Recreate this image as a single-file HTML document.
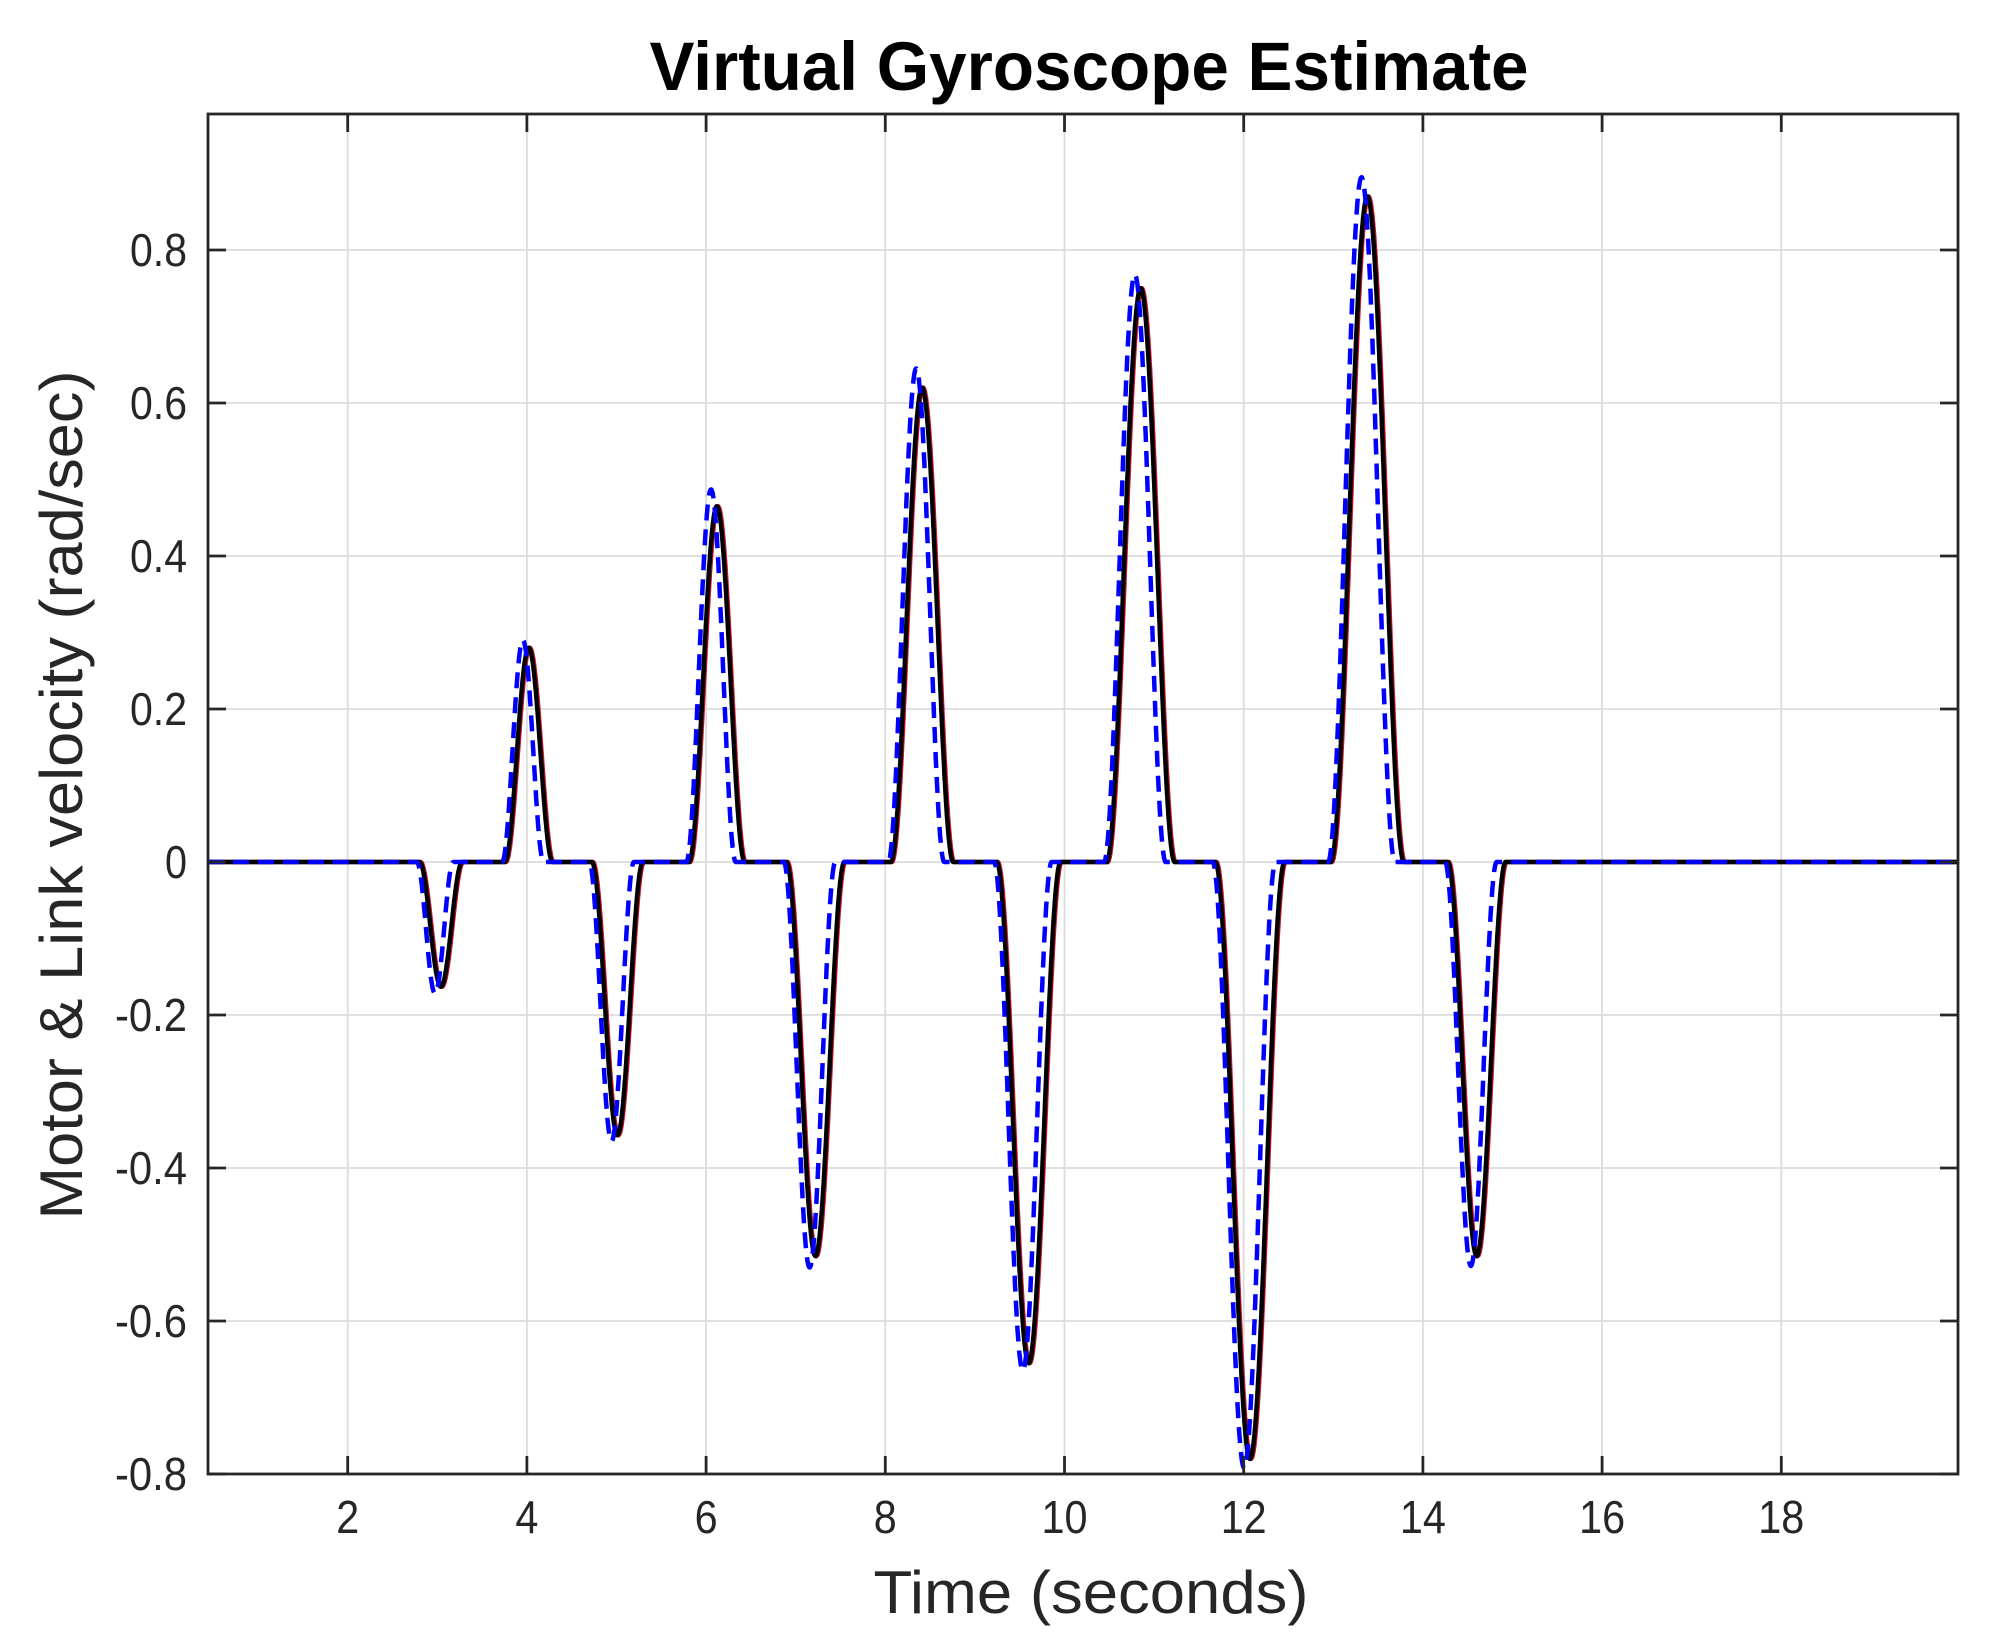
<!DOCTYPE html>
<html><head><meta charset="utf-8"><style>
html,body{margin:0;padding:0;background:#fff;}
svg{display:block;}
text{font-family:"Liberation Sans",Arial,sans-serif;fill:#262626;}
</style></head><body>
<svg id="s" width="1994" height="1651" viewBox="0 0 1994 1651" xmlns="http://www.w3.org/2000/svg">
<rect x="0" y="0" width="1994" height="1651" fill="#fff"/>
<g id="grid" stroke="#dcdcdc" stroke-width="1.8"></g>
<g id="curves" fill="none"></g>
<rect x="208" y="114" width="1750" height="1360" fill="none" stroke="#262626" stroke-width="2.8"/>
<g id="ticks" stroke="#262626" stroke-width="2.8"></g>
<g id="labels" font-size="46"></g>
<text x="1089" y="90" font-size="69" font-weight="bold" text-anchor="middle" style="fill:#000" textLength="879" lengthAdjust="spacingAndGlyphs">Virtual Gyroscope Estimate</text>
<text x="1091" y="1613" font-size="60" text-anchor="middle" textLength="435" lengthAdjust="spacingAndGlyphs">Time (seconds)</text>
<text transform="translate(82,795) rotate(-90)" font-size="60" text-anchor="middle" textLength="849" lengthAdjust="spacingAndGlyphs">Motor &amp; Link velocity (rad/sec)</text>
</svg>
<script>
var NS="http://www.w3.org/2000/svg";
var L=208,R=1958,T=114,B=1474;
function X(t){return 168.5+89.6*t;}
function Y(v){return 862-765*v;}
function el(p,tag,a,txt){var e=document.createElementNS(NS,tag);for(var k in a)e.setAttribute(k,a[k]);if(txt!==undefined)e.textContent=txt;p.appendChild(e);return e;}
var g=document.getElementById('grid'),tk=document.getElementById('ticks'),lb=document.getElementById('labels');
for(var t=2;t<=18;t+=2){var x=X(t);
 el(g,'line',{x1:x,y1:T,x2:x,y2:B});
 el(tk,'line',{x1:x,y1:B,x2:x,y2:B-18});el(tk,'line',{x1:x,y1:T,x2:x,y2:T+18});
 var s=String(t);
 el(lb,'text',{x:x,y:1533,'text-anchor':'middle',textLength:(s.length*23),lengthAdjust:'spacingAndGlyphs'},s);}
for(var i=-4;i<=4;i++){var v=i*0.2,y=Y(v);
 el(g,'line',{x1:L,y1:y,x2:R,y2:y});
 el(tk,'line',{x1:L,y1:y,x2:L+18,y2:y});el(tk,'line',{x1:R,y1:y,x2:R-18,y2:y});
 var s=(i==0)?'0':v.toFixed(1);
 var w=(i==0)?22:(i<0?72:57);
 el(lb,'text',{x:187,y:y+16,'text-anchor':'end',textLength:w,lengthAdjust:'spacingAndGlyphs'},s);}
var P=[[3.04,-0.163],[4.02,0.28],[5.01,-0.357],[6.12,0.465],[7.22,-0.515],[8.41,0.62],[9.6,-0.655],[10.85,0.75],[12.07,-0.78],[13.38,0.87],[14.6,-0.515]];
var BA=[-0.172,0.29,-0.365,0.487,-0.53,0.645,-0.665,0.768,-0.792,0.895,-0.528];
function f(t,blue,dx){var s=0;for(var i=0;i<P.length;i++){var c=P[i][0],A=P[i][1];var h=0.2+0.24*Math.abs(A);
 var st=c-h,en=c+h;if(blue){st-=0.03;en-=0.1;A=BA[i];}st+=dx;en+=dx;
 if(t>st&&t<en){var u=(t-st)/(en-st);s+=A*Math.pow(Math.sin(Math.PI*u),2);}}return s;}
function path(blue,dx){var d='';for(var t=0.44;t<=19.97;t+=0.004){d+=(d?'L':'M')+X(t).toFixed(1)+','+Y(f(t,blue,dx)).toFixed(1);}return d;}
var cv=document.getElementById('curves');
el(cv,'path',{d:path(false,0.012),stroke:'#d01030','stroke-width':4.5});
el(cv,'path',{d:path(false,0),stroke:'#000','stroke-width':4.5});
el(cv,'path',{d:path(true,0),stroke:'#0000ff','stroke-width':4.5,'stroke-dasharray':'16,9'});
</script>
</body></html>
